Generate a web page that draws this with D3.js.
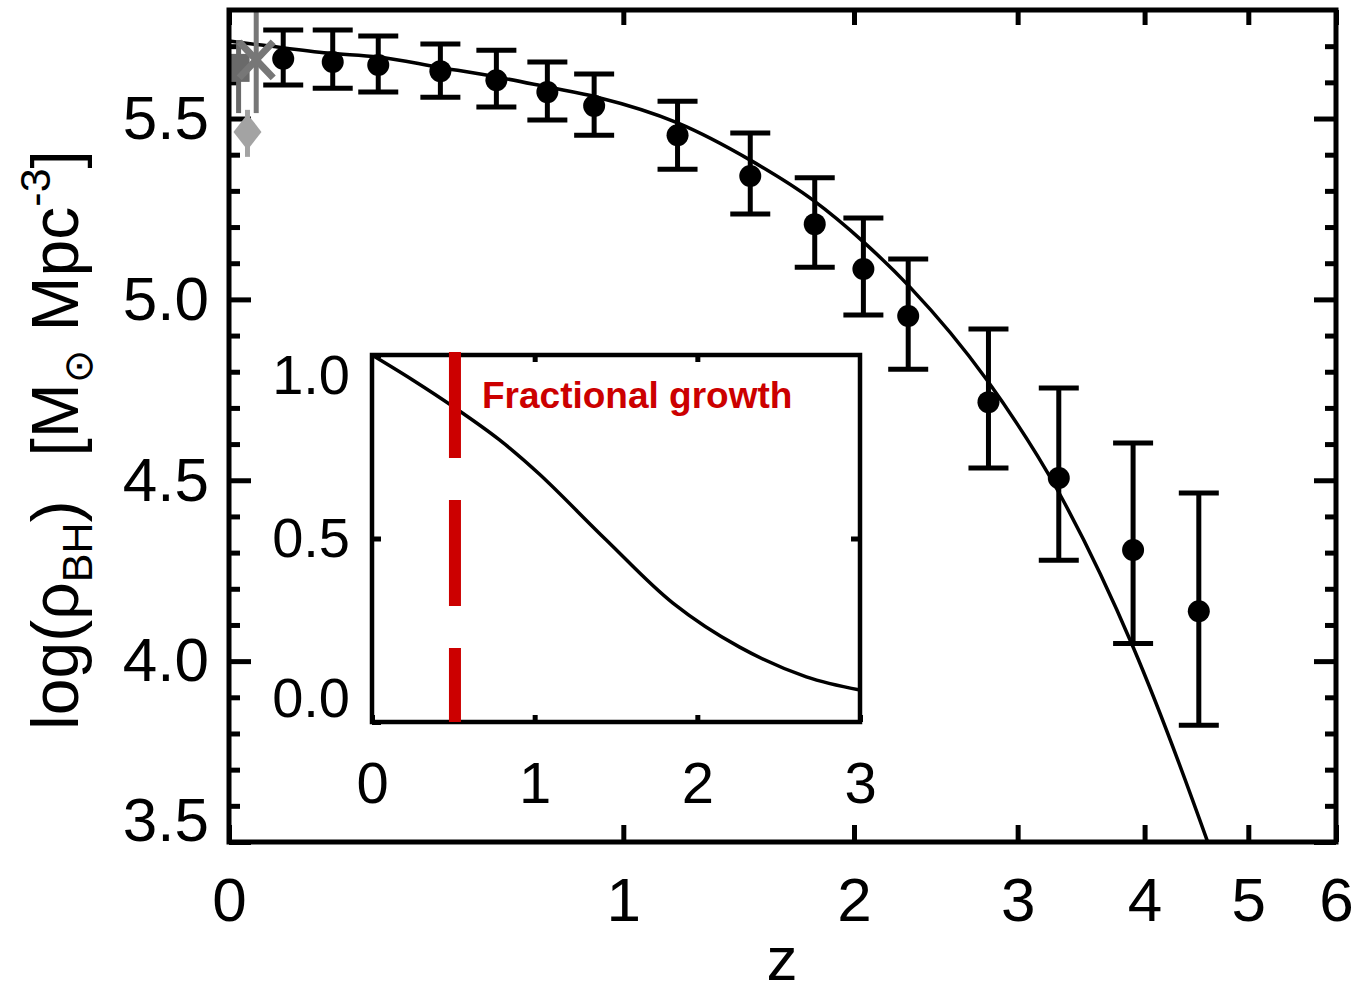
<!DOCTYPE html>
<html>
<head>
<meta charset="utf-8">
<script src="https://cdn.jsdelivr.net/npm/d3@7"></script>
<style>
  body { margin: 0; background: #fff; }
  text { font-family: "Liberation Sans", Arial, Helvetica, sans-serif; fill: #000; }
</style>
</head>
<body>
<script>
// black points (z, log rho) with error bar ends
var pointZ   = [0.10, 0.20, 0.30, 0.45, 0.60, 0.75, 0.90, 1.20, 1.50, 1.80, 2.05, 2.30, 2.80, 3.30, 3.90, 4.50];
var pointRho = [5.665, 5.656, 5.648, 5.631, 5.606, 5.573, 5.535, 5.454, 5.341, 5.208, 5.084, 4.954, 4.716, 4.506, 4.307, 4.138];
var pointHi  = [5.745, 5.745, 5.728, 5.706, 5.689, 5.656, 5.623, 5.548, 5.460, 5.336, 5.225, 5.112, 4.918, 4.755, 4.603, 4.465];
var pointLo  = [5.593, 5.584, 5.573, 5.559, 5.532, 5.496, 5.454, 5.360, 5.236, 5.089, 4.957, 4.807, 4.534, 4.279, 4.049, 3.823];

// solid model curve
var fitZ   = [0.0, 0.059, 0.19, 0.30, 0.445, 0.60, 0.75, 0.91, 1.20, 1.50, 1.79, 2.05, 2.31, 2.79, 3.29, 3.90, 4.58, 4.70];
var fitRho = [5.714, 5.703, 5.681, 5.670, 5.642, 5.615, 5.587, 5.559, 5.488, 5.385, 5.275, 5.159, 5.034, 4.777, 4.473, 4.039, 3.505, 3.41];

// local (z ~ 0) estimates in grey
var localZ     = [0.017, 0.049, 0.033];
var localRho   = [5.640, 5.662, 5.463];
var localHi    = [5.717, 5.800, 5.524];
var localLo    = [5.515, 5.515, 5.394];
var localShape = ["square", "cross", "diamond"];
var localColor = ["#6a6a6a", "#777777", "#a3a3a3"];

// inset: fractional growth
var insetZ    = [0.0, 0.25, 0.51, 0.78, 1.03, 1.44, 1.85, 2.26, 2.67, 3.0];
var insetFrac = [1.0, 0.932, 0.856, 0.77, 0.675, 0.496, 0.324, 0.204, 0.123, 0.087];
var insetMarkZ = 0.51;

var xTicks = [0, 1, 2, 3, 4, 5, 6];
var yTicks = [3.5, 4.0, 4.5, 5.0, 5.5];
var yMinor = [3.6, 3.7, 3.8, 3.9, 4.1, 4.2, 4.3, 4.4, 4.6, 4.7, 4.8, 4.9, 5.1, 5.2, 5.3, 5.4, 5.6, 5.7];
var insetXTicks = [0, 1, 2, 3];
var insetYTicks = [0.0, 0.5, 1.0];

var svgWidth = 1357;
var svgHeight = 994;

var svg = d3.select("body")
  .append("svg")
  .attr("width", svgWidth)
  .attr("height", svgHeight);

// plot box (named so as not to clash with window.top)
var box = { left: 229, right: 1336, top: 10, bottom: 842 };

// x axis is log(1+z)
var x = d3.scaleLog().domain([1, 7]).range([box.left, box.right]);
var y = d3.scaleLinear().domain([3.5, 5.8]).range([box.bottom, box.top]);
var xz = function(z) { return x(1 + z); };

svg.append("clipPath").attr("id", "plotClip")
  .append("rect")
  .attr("x", box.left).attr("y", box.top)
  .attr("width", box.right - box.left).attr("height", box.bottom - box.top);

function styleAxis(g) {
  g.select(".domain").remove();
  g.selectAll(".tick line").attr("stroke", "#000").attr("stroke-width", 5);
  g.selectAll(".tick text").attr("fill", "#000");
}

// bottom axis with labels
svg.append("g")
  .attr("transform", `translate(0, ${box.bottom})`)
  .call(d3.axisBottom(x).tickValues(xTicks.map(d => d + 1))
    .tickFormat(d => d3.format("d")(d - 1))
    .tickSize(-17).tickSizeOuter(0).tickPadding(35))
  .call(styleAxis)
  .selectAll("text").style("font-size", "62px");

// top axis
svg.append("g")
  .attr("transform", `translate(0, ${box.top})`)
  .call(d3.axisTop(x).tickValues(xTicks.map(d => d + 1))
    .tickFormat("").tickSize(-15).tickSizeOuter(0))
  .call(styleAxis);

// left axis with labels
svg.append("g")
  .attr("transform", `translate(${box.left}, 0)`)
  .call(d3.axisLeft(y).tickValues(yTicks).tickFormat(d3.format(".1f"))
    .tickSize(-22).tickSizeOuter(0).tickPadding(20))
  .call(styleAxis)
  .selectAll("text")
  .style("font-size", "62px")
  .attr("dy", d => d === 3.5 ? "-0.03em" : "0.32em");

svg.append("g")
  .attr("transform", `translate(${box.left}, 0)`)
  .call(d3.axisLeft(y).tickValues(yMinor).tickFormat("").tickSize(-11).tickSizeOuter(0))
  .call(styleAxis);

// right axis
svg.append("g")
  .attr("transform", `translate(${box.right}, 0)`)
  .call(d3.axisRight(y).tickValues(yTicks).tickFormat("").tickSize(-22).tickSizeOuter(0))
  .call(styleAxis);

svg.append("g")
  .attr("transform", `translate(${box.right}, 0)`)
  .call(d3.axisRight(y).tickValues(yMinor).tickFormat("").tickSize(-11).tickSizeOuter(0))
  .call(styleAxis);

// axis titles
svg.append("text")
  .attr("x", 782)
  .attr("y", 980)
  .attr("text-anchor", "middle")
  .style("font-size", "62px")
  .text("z");

var yTitle = svg.append("text")
  .attr("transform", "translate(78, 440) rotate(-90)")
  .attr("text-anchor", "middle")
  .style("font-size", "66px");
yTitle.append("tspan").text("log(\u03c1");
yTitle.append("tspan").attr("dy", 14).style("font-size", "43px").text("BH");
yTitle.append("tspan").attr("dy", -14).text(")");
yTitle.append("tspan").attr("dx", 44).text("[M");
yTitle.append("tspan").attr("dy", 14).style("font-size", "40px").style("font-family", "DejaVu Sans").text("\u2299");
yTitle.append("tspan").attr("dy", -14).text(" Mpc");
yTitle.append("tspan").attr("dy", -28).style("font-size", "43px").text("-3");
yTitle.append("tspan").attr("dy", 28).text("]");

var plot = svg.append("g").attr("clip-path", "url(#plotClip)");

// model curve
var fitLine = d3.line()
  .x((d, i) => xz(fitZ[i]))
  .y(d => y(d))
  .curve(d3.curveMonotoneX);

plot.append("path")
  .datum(fitRho)
  .attr("d", fitLine)
  .attr("fill", "none")
  .attr("stroke", "#000")
  .attr("stroke-width", 3.5);

// grey local points
localZ.forEach(function(z, i) {
  var cx = xz(z), cy = y(localRho[i]);
  plot.append("line")
    .attr("x1", cx).attr("x2", cx)
    .attr("y1", y(localHi[i])).attr("y2", y(localLo[i]))
    .attr("stroke", localColor[i])
    .attr("stroke-width", 5);
  if (localShape[i] === "square") {
    plot.append("rect")
      .attr("x", cx - 11).attr("y", cy - 14)
      .attr("width", 22).attr("height", 28)
      .attr("fill", localColor[i]);
  } else if (localShape[i] === "cross") {
    plot.append("path")
      .attr("d", `M${cx - 17},${cy - 18}L${cx + 17},${cy + 18}M${cx - 17},${cy + 18}L${cx + 17},${cy - 18}`)
      .attr("stroke", localColor[i])
      .attr("stroke-width", 7);
  } else {
    plot.append("path")
      .attr("d", `M${cx},${cy - 18}L${cx + 14},${cy}L${cx},${cy + 18}L${cx - 14},${cy}Z`)
      .attr("fill", localColor[i]);
  }
});

// black points with error bars
var pts = plot.selectAll(".pt")
  .data(pointRho)
  .enter()
  .append("g")
  .attr("class", "pt");

pts.append("line")
  .attr("x1", (d, i) => xz(pointZ[i]))
  .attr("x2", (d, i) => xz(pointZ[i]))
  .attr("y1", (d, i) => y(pointHi[i]))
  .attr("y2", (d, i) => y(pointLo[i]))
  .attr("stroke", "#000").attr("stroke-width", 5);

pts.append("line")
  .attr("x1", (d, i) => xz(pointZ[i]) - 20)
  .attr("x2", (d, i) => xz(pointZ[i]) + 20)
  .attr("y1", (d, i) => y(pointHi[i]))
  .attr("y2", (d, i) => y(pointHi[i]))
  .attr("stroke", "#000").attr("stroke-width", 5);

pts.append("line")
  .attr("x1", (d, i) => xz(pointZ[i]) - 20)
  .attr("x2", (d, i) => xz(pointZ[i]) + 20)
  .attr("y1", (d, i) => y(pointLo[i]))
  .attr("y2", (d, i) => y(pointLo[i]))
  .attr("stroke", "#000").attr("stroke-width", 5);

pts.append("circle")
  .attr("cx", (d, i) => xz(pointZ[i]))
  .attr("cy", d => y(d))
  .attr("r", 11)
  .attr("fill", "#000");

// frame
svg.append("rect")
  .attr("x", box.left).attr("y", box.top)
  .attr("width", box.right - box.left).attr("height", box.bottom - box.top)
  .attr("fill", "none")
  .attr("stroke", "#000")
  .attr("stroke-width", 5);

// ---- inset ----
var ix = d3.scaleLinear().domain([0, 3]).range([372, 860]);
var iy = d3.scaleLinear().domain([0, 1]).range([722, 355]);

var inset = svg.append("g");

inset.append("rect")
  .attr("x", 372).attr("y", 355)
  .attr("width", 860 - 372).attr("height", 722 - 355)
  .attr("fill", "#fff");

inset.append("g")
  .attr("transform", "translate(0, 722)")
  .call(d3.axisBottom(ix).tickValues(insetXTicks).tickFormat(d3.format("d"))
    .tickSize(-7).tickSizeOuter(0).tickPadding(40))
  .call(styleAxis)
  .selectAll("text").style("font-size", "58px");

inset.append("g")
  .attr("transform", "translate(0, 355)")
  .call(d3.axisTop(ix).tickValues([1, 2]).tickFormat("").tickSize(-7).tickSizeOuter(0))
  .call(styleAxis);

var insetLeft = inset.append("g")
  .attr("transform", "translate(372, 0)")
  .call(d3.axisLeft(iy).tickValues(insetYTicks).tickFormat(d3.format(".1f"))
    .tickSize(-9).tickSizeOuter(0).tickPadding(22))
  .call(styleAxis);
insetLeft.selectAll("text")
  .style("font-size", "56px")
  .attr("dy", d => d === 1 ? "0.69em" : (d === 0 ? "-0.09em" : "0.33em"));

inset.append("g")
  .attr("transform", "translate(860, 0)")
  .call(d3.axisRight(iy).tickValues([0.5]).tickFormat("").tickSize(-9).tickSizeOuter(0))
  .call(styleAxis);

inset.append("path")
  .datum(insetFrac)
  .attr("d", d3.line().x((d, i) => ix(insetZ[i])).y(d => iy(d)).curve(d3.curveCatmullRom.alpha(0.5)))
  .attr("fill", "none")
  .attr("stroke", "#000")
  .attr("stroke-width", 3.5);

inset.append("rect")
  .attr("x", 372).attr("y", 355)
  .attr("width", 860 - 372).attr("height", 722 - 355)
  .attr("fill", "none")
  .attr("stroke", "#000")
  .attr("stroke-width", 4.5);

inset.append("line")
  .attr("x1", ix(insetMarkZ)).attr("x2", ix(insetMarkZ))
  .attr("y1", 352).attr("y2", 722)
  .attr("stroke", "#cc0000")
  .attr("stroke-width", 12)
  .attr("stroke-dasharray", "106,42");

inset.append("text")
  .attr("x", 482)
  .attr("y", 408)
  .style("font-size", "37px")
  .style("font-weight", "bold")
  .style("fill", "#cc0000")
  .text("Fractional growth");
</script>
</body>
</html>
